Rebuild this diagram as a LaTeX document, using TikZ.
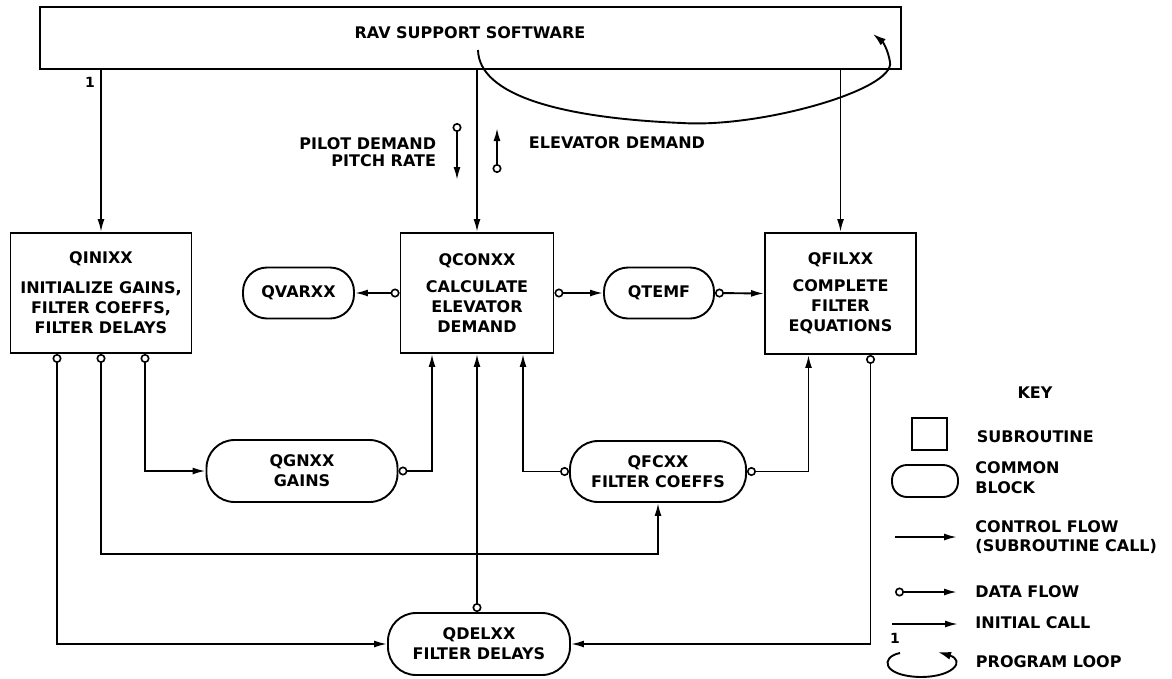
\documentclass[tikz,border=0pt]{standalone}
\usepackage{fontspec}
\newfontfamily\dfont{DejaVu Sans}
\usetikzlibrary{arrows.meta}
\begin{document}
\begin{tikzpicture}[x=1pt,y=-1pt,line width=1.9pt,
  every node/.style={font=\dfont\bfseries\fontsize{16}{20}\selectfont, inner sep=0pt},
  sub/.style={draw, align=center},
  pill/.style={draw, align=center, rounded corners=#1},
  ctrl/.style={-{Latex[length=13pt,width=7pt]}},
  data/.style={{Circle[open,length=9pt,width=9pt,line width=1.6pt]}-{Latex[length=13pt,width=7pt]}},
  loopst/.style={-{Latex[length=13pt,width=8pt]}},
  lbl/.style={anchor=west, align=left}]
\useasboundingbox (0,0) rectangle (1172,678);

% main nodes
\node[sub, minimum width=861pt, minimum height=62pt] (rav) at (470.5,38) {};
\node (ravt) at (470,33) {RAV SUPPORT SOFTWARE};
\node[sub, minimum width=181pt, minimum height=120pt] (qini) at (101,293)
  {QINIXX\\[10pt]INITIALIZE GAINS,\\FILTER COEFFS,\\FILTER DELAYS};
\node[sub, minimum width=153pt, minimum height=120pt] (qcon) at (477,293)
  {QCONXX\\[7pt]CALCULATE\\ELEVATOR\\DEMAND};
\node[sub, minimum width=151pt, minimum height=121pt] (qfil) at (840.5,293.5)
  {QFILXX\\[7pt]COMPLETE\\FILTER\\EQUATIONS};
\node[pill=24pt, minimum width=111pt, minimum height=51pt] (qvar) at (298.5,293) {QVARXX};
\node[pill=24pt, minimum width=110pt, minimum height=51pt] (qtemf) at (659,293) {QTEMF};
\node[pill=28pt, minimum width=191pt, minimum height=62pt] (qgn) at (302,471) {QGNXX\\GAINS};
\node[pill=28pt, minimum width=176pt, minimum height=61pt] (qfc) at (658,471.5) {QFCXX\\FILTER COEFFS};
\node[pill=28pt, minimum width=182pt, minimum height=62pt] (qdel) at (479,644) {QDELXX\\FILTER DELAYS};

% control flow from support software
\draw[ctrl] (rav.south -| qini.north) -- (qini.north);
\draw[ctrl] (rav.south -| qcon.north) -- (qcon.north);
\draw[ctrl] (rav.south -| qfil.north) -- (qfil.north);
\node[font=\dfont\bfseries\fontsize{14}{16}\selectfont] (one) at (90,82) {1};

% program loop
\coordinate (lpA) at (478,50);
\coordinate (lpB) at (873,34);
\draw[loopst] (lpA) .. controls (479,95) and (560,118) .. (682,123)
  .. controls (760,128) and (895,90) .. (890,62)
  .. controls (888,50) and (883,42) .. (lpB);

% pilot / elevator demand
\coordinate (pdA) at (457,123);
\coordinate (pdB) at (457,180);
\coordinate (edA) at (497,173);
\coordinate (edB) at (497,128);
\draw[data] (pdA) -- (pdB);
\draw[data] (edA) -- (edB);
\node[anchor=east, align=right, font=\dfont\bfseries\fontsize{16}{17}\selectfont] (pdl) at (437,152) {PILOT DEMAND\\PITCH RATE};
\node[anchor=west] (edl) at (528,143) {ELEVATOR DEMAND};

% data flows
\coordinate (busA) at (0,554);
\draw[data] (qcon.west) -- (qvar.east);
\draw[data] (qcon.east) -- (qtemf.west);
\draw[data] (qtemf.east) -- (qfil.west);
\draw[data] ([xshift=-44pt]qini.south) |- (qdel.west);
\draw[data] (qini.south) -- (qini.south |- busA) -| (qfc.south);
\draw[data] ([xshift=44pt]qini.south) |- (qgn.west);
\draw[data] (qgn.east) -| ([xshift=-45pt]qcon.south);
\draw[data] (qcon.south |- qdel.north) -- (qcon.south);
\draw[data] (qfc.west) -| ([xshift=46pt]qcon.south);
\draw[data] (qfc.east) -| ([xshift=-32pt]qfil.south);
\draw[data] ([xshift=30pt]qfil.south) |- (qdel.east);

% key
\node (key) at (1035,393) {KEY};
\node[draw, minimum width=35pt, minimum height=32pt] (ksub) at (929.5,434) {};
\node[lbl] (ksubt) at (976,437) {SUBROUTINE};
\node[draw, rounded corners=15pt, minimum width=66pt, minimum height=32pt] (kcom) at (925,481) {};
\node[lbl] (kcomt) at (974.5,478) {COMMON\\BLOCK};
\coordinate (kcA) at (895,537);
\coordinate (kcB) at (957,537);
\draw[ctrl] (kcA) -- (kcB);
\node[lbl, font=\dfont\bfseries\fontsize{16}{19}\selectfont] (kct) at (974.5,537.5) {CONTROL FLOW\\(SUBROUTINE CALL)};
\coordinate (kdA) at (895,592);
\coordinate (kdB) at (957,592);
\draw[data] (kdA) -- (kdB);
\node[lbl] (kdt) at (974.5,592) {DATA FLOW};
\coordinate (kiA) at (892,624);
\coordinate (kiB) at (958,624);
\draw[ctrl] (kiA) -- (kiB);
\node[font=\dfont\bfseries\fontsize{14}{16}\selectfont] (kione) at (895,638) {1};
\node[lbl] (kit) at (974.5,623) {INITIAL CALL};
\coordinate (klA) at (900,653);
\coordinate (klB) at (938,652);
\draw[loopst] (klA) .. controls (880,657) and (882,676) .. (920,677)
  .. controls (955,677) and (965,660) .. (klB);
\node[lbl] (klt) at (975,662) {PROGRAM LOOP};
\end{tikzpicture}
\end{document}
